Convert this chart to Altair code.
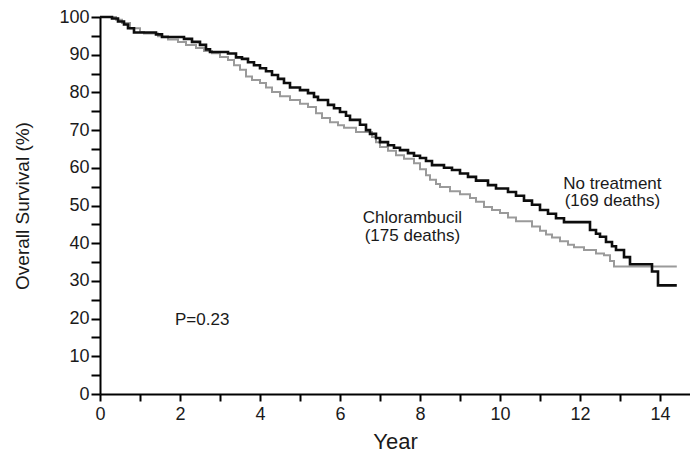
import altair as alt
import pandas as pd

# Kaplan-Meier step points: No treatment arm
years_none = [0, 0.3, 0.45, 0.6, 0.7, 0.85, 1.4, 1.55, 2.1, 2.3, 2.5, 2.65, 2.75,
              3.2, 3.4, 3.55, 3.7, 3.85, 4.0, 4.15, 4.3, 4.45, 4.6, 4.75, 5.0,
              5.2, 5.35, 5.45, 5.7, 5.85, 6.0, 6.15, 6.25, 6.5, 6.65, 6.75, 6.9,
              7.0, 7.2, 7.35, 7.5, 7.7, 7.85, 8.0, 8.15, 8.3, 8.6, 8.8, 9.0, 9.2,
              9.4, 9.7, 9.9, 10.2, 10.4, 10.6, 10.8, 11.0, 11.2, 11.4, 11.6,
              12.25, 12.4, 12.5, 12.65, 12.8, 12.9, 13.1, 13.25, 13.8, 13.95, 14.42]
surv_none = [100, 99.6, 98.8, 98.0, 97.0, 95.9, 95.4, 94.7, 94.2, 93.4, 92.6, 91.4, 90.7,
             90.3, 89.3, 88.9, 88.0, 87.2, 86.4, 85.6, 84.6, 83.6, 82.5, 81.3, 80.6,
             79.8, 78.8, 78.0, 76.7, 75.8, 74.8, 73.8, 72.7, 71.4, 70.0, 69.0, 67.9,
             66.8, 66.0, 65.3, 64.7, 63.9, 63.2, 62.6, 61.8, 60.7, 60.0, 59.4, 58.5, 57.6,
             56.6, 55.4, 54.5, 53.6, 52.6, 51.3, 50.2, 48.8, 47.8, 46.6, 45.6,
             43.5, 42.5, 41.7, 40.3, 39.2, 38.2, 36.3, 34.4, 32.5, 28.8, 28.8]

# Kaplan-Meier step points: Chlorambucil arm
years_chl = [0, 0.4, 0.55, 0.75, 1.0, 1.1, 1.45, 1.7, 1.95, 2.15, 2.4, 2.6, 2.8,
             3.0, 3.2, 3.35, 3.5, 3.65, 3.8, 4.0, 4.15, 4.3, 4.5, 4.75, 5.0, 5.2,
             5.4, 5.55, 5.75, 5.95, 6.1, 6.4, 6.8, 6.9, 7.0, 7.2, 7.4, 7.6, 7.85,
             8.0, 8.15, 8.25, 8.4, 8.5, 8.75, 9.0, 9.25, 9.4, 9.6, 9.8, 10.0, 10.2,
             10.4, 10.8, 11.0, 11.15, 11.3, 11.5, 11.7, 11.85, 12.1, 12.4, 12.6,
             12.75, 12.85, 14.42]
surv_chl = [100, 99.3, 98.4, 97.0, 96.0, 95.6, 94.9, 94.0, 93.4, 92.6, 91.8, 91.0, 90.4,
            89.4, 88.6, 87.2, 86.0, 84.2, 83.3, 82.5, 81.3, 80.1, 79.0, 78.0, 77.0, 76.1,
            74.5, 73.2, 72.1, 71.3, 70.6, 69.5, 68.2, 66.8, 65.5, 64.5, 63.3, 62.4, 61.2,
            59.6, 58.0, 56.8, 55.7, 54.9, 53.8, 53.0, 52.0, 51.0, 49.6, 48.8, 48.0, 46.8,
            45.8, 44.4, 43.3, 42.3, 41.5, 40.5, 39.6, 38.9, 38.2, 37.3, 36.8,
            35.3, 33.8, 33.8]

x_ticks = list(range(0, 15))
y_ticks = list(range(0, 101, 5))

FONT = "Liberation Sans"
INK = "#1a1a1a"

df_none = pd.DataFrame({"year": years_none, "survival": surv_none})
df_chl = pd.DataFrame({"year": years_chl, "survival": surv_chl})

x_scale = alt.Scale(domain=[0, 14.75], nice=False, zero=False)
y_scale = alt.Scale(domain=[0, 100], nice=False)

x_axis = alt.Axis(
    values=x_ticks,
    labelExpr="datum.value % 2 == 0 ? datum.label : ''",
    title="Year", grid=False,
    domainColor="black", domainWidth=2,
    tickColor="black", tickWidth=2, tickSize=7,
    labelFont=FONT, labelFontSize=18, labelColor=INK, labelPadding=4,
    labelOverlap=False, labelFlush=False, labelBound=False,
    titleFont=FONT, titleFontSize=22, titleFontWeight="normal",
    titleColor=INK, titlePadding=8,
)
y_axis = alt.Axis(
    values=y_ticks,
    labelExpr="datum.value % 10 == 0 ? datum.label : ''",
    title="Overall Survival (%)", grid=False,
    domainColor="black", domainWidth=2,
    tickColor="black", tickWidth=2, tickSize=9,
    labelFont=FONT, labelFontSize=18, labelColor=INK, labelPadding=2,
    labelOverlap=False, labelFlush=False, labelBound=False,
    titleFont=FONT, titleFontSize=19, titleFontWeight="normal",
    titleColor=INK, titlePadding=26,
)

# shared position encodings so every layer carries the same axis definition
X = alt.X("year:Q", scale=x_scale, axis=x_axis)
Y = alt.Y("survival:Q", scale=y_scale, axis=y_axis)

line_chl = alt.Chart(df_chl).mark_line(
    interpolate="step-after", color="#9a9a9a", strokeWidth=2
).encode(x=X, y=Y)

line_none = alt.Chart(df_none).mark_line(
    interpolate="step-after", color="#0d0d0d", strokeWidth=2.6
).encode(x=X, y=Y)

labels = pd.DataFrame({
    "year": [7.81, 12.81],
    "survival": [45.3, 54.4],
    "text": ["Chlorambucil\n(175 deaths)", "No treatment\n(169 deaths)"],
})
label_marks = alt.Chart(labels).mark_text(
    font=FONT, fontSize=17, lineHeight=17.5, lineBreak="\n",
    color=INK, align="center", baseline="alphabetic"
).encode(x=X, y=Y, text="text:N")

pval = pd.DataFrame({"year": [1.875], "survival": [18.3], "text": ["P=0.23"]})
pval_mark = alt.Chart(pval).mark_text(
    font=FONT, fontSize=17, color=INK, align="left", baseline="alphabetic"
).encode(x=X, y=Y, text="text:N")

chart = alt.layer(line_chl, line_none, label_marks, pval_mark).properties(
    width=590, height=377,
    padding={"left": 100, "top": 17, "right": 0, "bottom": 60},
    autosize=alt.AutoSizeParams(type="none"),
    background="white",
).configure_view(stroke=None)

chart.save("out.html", embed_options={"renderer": "svg", "actions": False})
